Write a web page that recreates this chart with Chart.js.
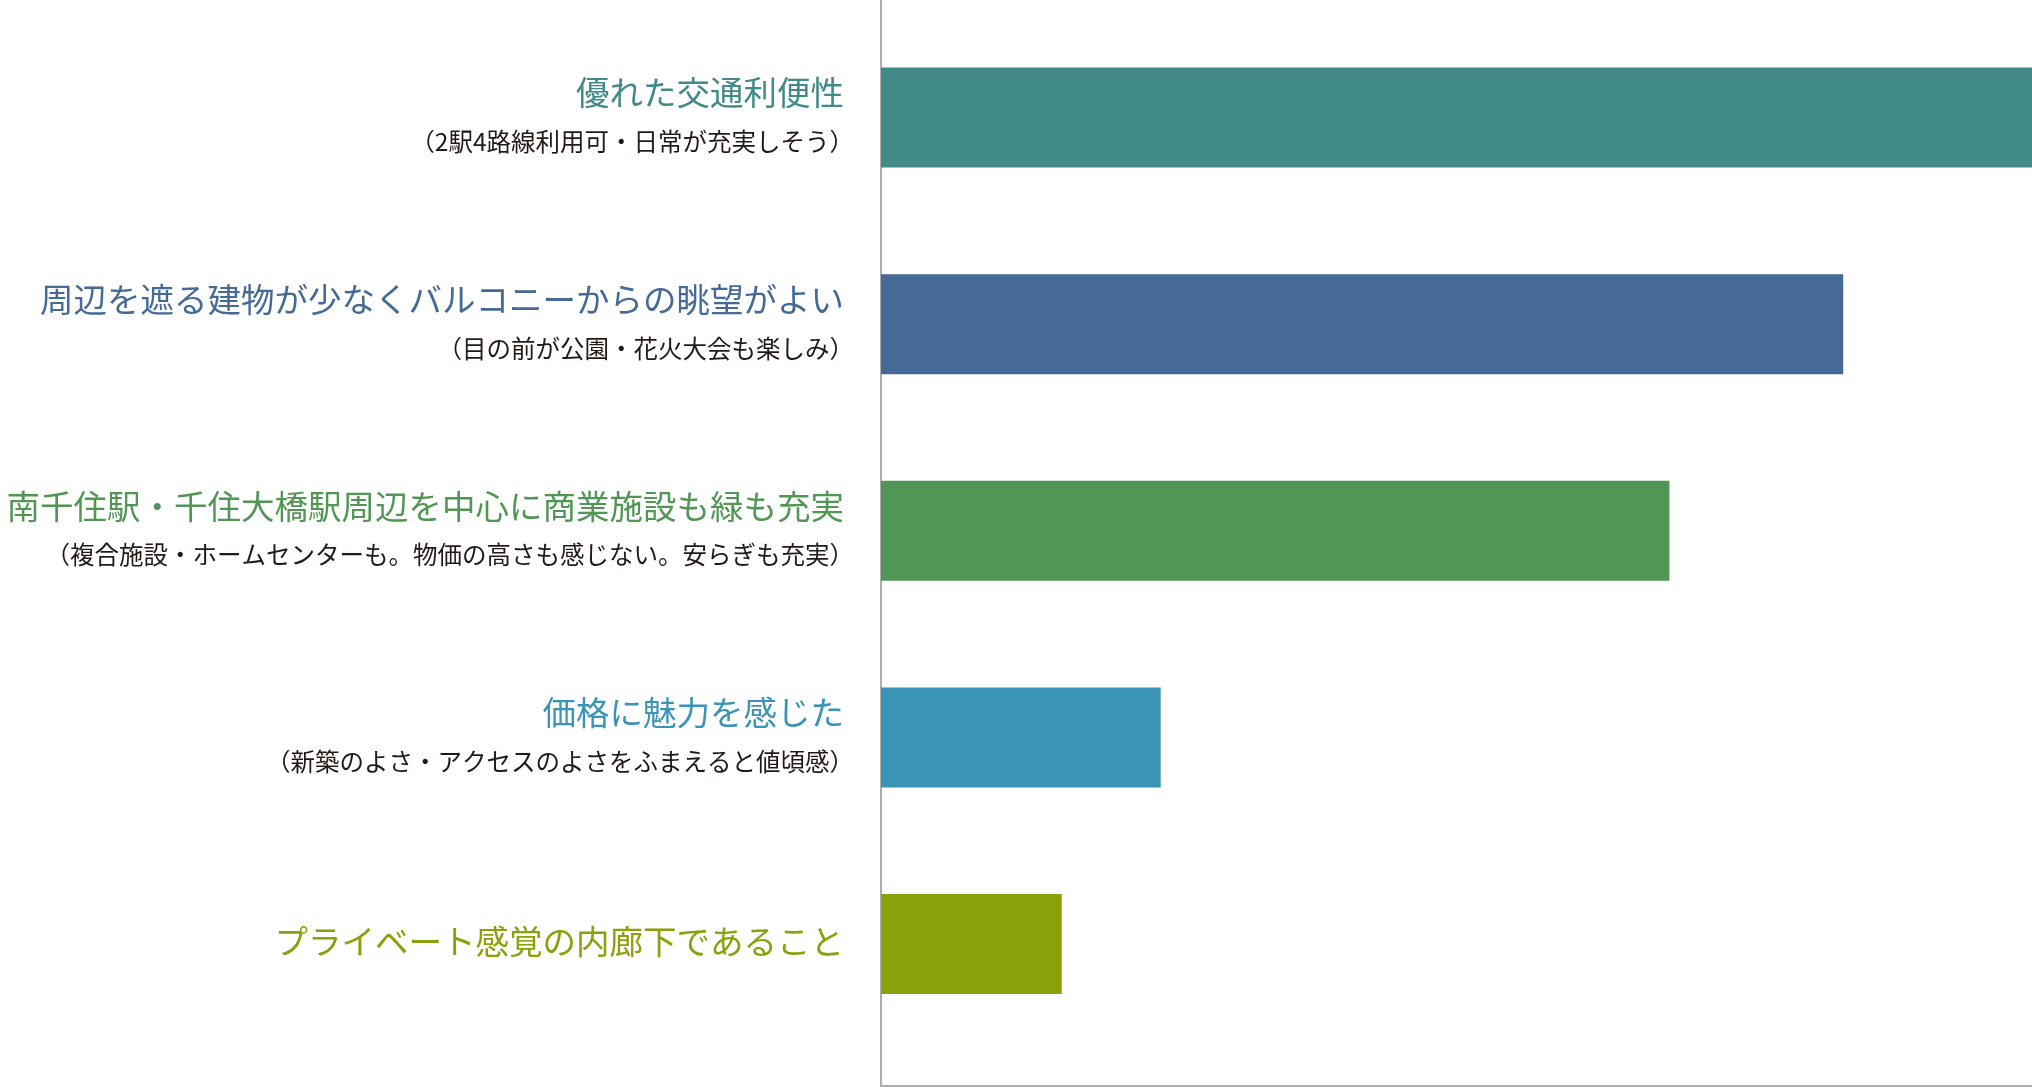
<!DOCTYPE html>
<html lang="ja">
<head>
<meta charset="utf-8">
<title>購入の決め手</title>
<script src="https://cdn.jsdelivr.net/npm/chart.js@4/dist/chart.umd.min.js"></script>
<style>
  html, body { margin: 0; padding: 0; background: #fff; }
  #wrap { width: 2032px; height: 1088px; }
</style>
</head>
<body>
<div id="wrap"><canvas id="chart" width="2032" height="1088"></canvas></div>
<script>
// 項目（見出し）
const titles = [
  '優れた交通利便性',
  '周辺を遮る建物が少なくバルコニーからの眺望がよい',
  '南千住駅・千住大橋駅周辺を中心に商業施設も緑も充実',
  '価格に魅力を感じた',
  'プライベート感覚の内廊下であること'
];
// 補足（かっこ書き）
const notes = [
  '（2駅4路線利用可・日常が充実しそう）',
  '（目の前が公園・花火大会も楽しみ）',
  '（複合施設・ホームセンターも。物価の高さも感じない。安らぎも充実）',
  '（新築のよさ・アクセスのよさをふまえると値頃感）',
  ''
];
// 値（最大を100とした相対値）
const values = [100, 83.6, 68.5, 24.3, 15.7];
const colors = ['#418a87', '#456a96', '#519654', '#3994b5', '#8ba10b'];

// ラベルを描く（見出しは棒の色、補足は濃い色）
const labelPlugin = {
  id: 'sideLabels',
  afterDraw(chart) {
    const ctx = chart.ctx;
    const yScale = chart.scales.y;
    const right = chart.chartArea.left - 37;
    ctx.save();
    ctx.textAlign = 'right';
    ctx.textBaseline = 'middle';
    titles.forEach((t, i) => {
      const y = yScale.getPixelForValue(i);
      const hasNote = notes[i] !== '';
      ctx.fillStyle = colors[i];
      ctx.font = '33.5px "Noto Sans CJK JP"';
      ctx.fillText(t, right, hasNote ? y - 25 : y - 3);
      if (hasNote) {
        ctx.fillStyle = '#231815';
        ctx.font = '24.5px "Noto Sans CJK JP"';
        ctx.fillText(notes[i], right + 10, y + 24);
      }
    });
    ctx.restore();
  }
};

const ctx = document.getElementById('chart').getContext('2d');
const myChart = new Chart(ctx, {
  type: 'bar',
  data: {
    datasets: [{
      data: values.map((v, i) => ({ x: v, y: i })),
      backgroundColor: colors,
      borderWidth: 0,
      barPercentage: 1,
      categoryPercentage: 0.484
    }]
  },
  options: {
    indexAxis: 'y',
    responsive: false,
    devicePixelRatio: 1,
    animation: false,
    layout: { padding: { left: 881, right: 0, top: 0, bottom: 2 } },
    plugins: { legend: { display: false }, tooltip: { enabled: false } },
    scales: {
      x: {
        min: 0,
        max: 100,
        ticks: { display: false },
        grid: { display: false, drawTicks: false },
        border: { display: true, color: '#adadad', width: 2 }
      },
      y: {
        type: 'linear',
        reverse: true,
        offset: false,
        min: -0.569,
        max: 4.687,
        afterBuildTicks: (axis) => { axis.ticks = titles.map((t, i) => ({ value: i })); },
        ticks: { display: false },
        grid: { display: false, drawTicks: false },
        border: { display: true, color: '#adadad', width: 2 }
      }
    }
  },
  plugins: [labelPlugin]
});
</script>
</body>
</html>
